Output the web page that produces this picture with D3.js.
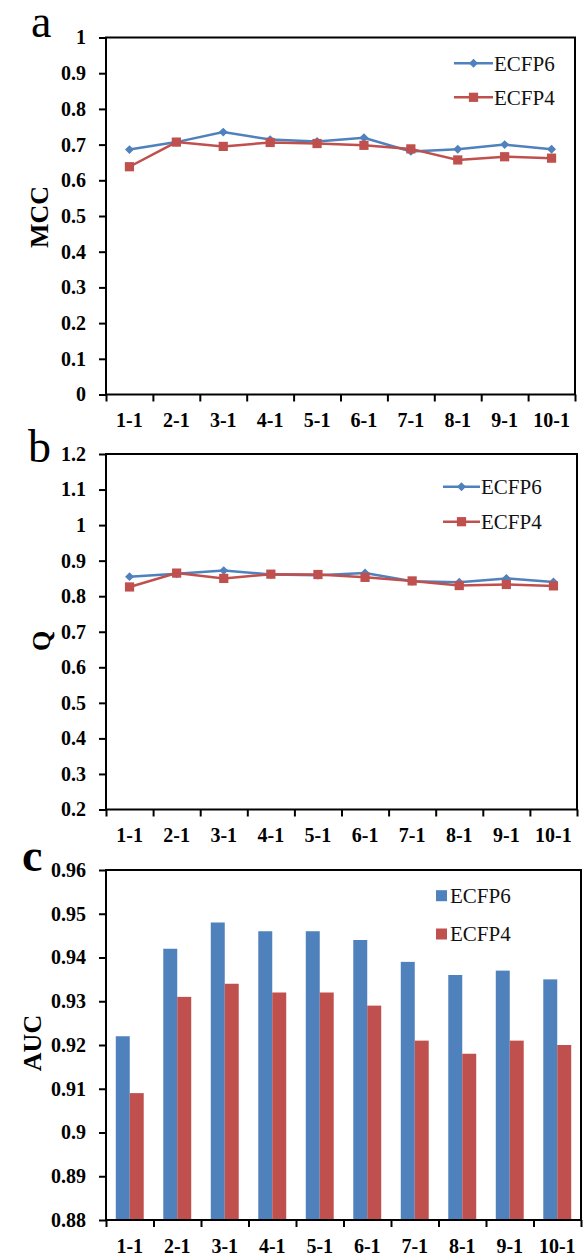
<!DOCTYPE html>
<html>
<head>
<meta charset="utf-8">
<script src="https://cdn.jsdelivr.net/npm/d3@7"></script>
<style>
  body { margin: 0; background: #fff; }
  svg, svg text { font-family: "Liberation Serif", "DejaVu Serif", serif !important; }
</style>
</head>
<body>
<svg id="chart" width="583" height="1256"></svg>
<script>
// data
const categories = ["1-1", "2-1", "3-1", "4-1", "5-1", "6-1", "7-1", "8-1", "9-1", "10-1"];
const seriesNames = ["ECFP6", "ECFP4"];

const mccECFP6 = [0.686, 0.707, 0.735, 0.714, 0.709, 0.719, 0.681, 0.687, 0.700, 0.687];
const mccECFP4 = [0.638, 0.707, 0.695, 0.706, 0.703, 0.698, 0.688, 0.657, 0.666, 0.662];

const qECFP6 = [0.855, 0.863, 0.872, 0.861, 0.859, 0.865, 0.842, 0.839, 0.850, 0.840];
const qECFP4 = [0.826, 0.865, 0.850, 0.862, 0.861, 0.853, 0.843, 0.830, 0.833, 0.829];

const aucECFP6 = [0.922, 0.942, 0.948, 0.946, 0.946, 0.944, 0.939, 0.936, 0.937, 0.935];
const aucECFP4 = [0.909, 0.931, 0.934, 0.932, 0.932, 0.929, 0.921, 0.918, 0.921, 0.920];

const mccTicks = [0, 0.1, 0.2, 0.3, 0.4, 0.5, 0.6, 0.7, 0.8, 0.9, 1];
const qTicks = [0.2, 0.3, 0.4, 0.5, 0.6, 0.7, 0.8, 0.9, 1, 1.1, 1.2];
const aucTicks = [0.88, 0.89, 0.9, 0.91, 0.92, 0.93, 0.94, 0.95, 0.96];

const colors = ["#4F81BD", "#C0504D"];
const serif = "'Liberation Serif', 'DejaVu Serif', serif";

const svg = d3.select("#chart");

// shared frame + axes for one panel, returns scales
function frame(p) {
  const g = svg.append("g");
  const x = d3.scaleBand(categories, [p.left, p.right]);
  const y = d3.scaleLinear([p.ticks[0], p.ticks[p.ticks.length - 1]], [p.bottom, p.top]);

  g.append("rect")
    .attr("x", p.left).attr("y", p.top)
    .attr("width", p.right - p.left).attr("height", p.bottom - p.top)
    .attr("fill", "none").attr("stroke", "#000").attr("stroke-width", 2);

  const yAxis = g.append("g")
    .attr("transform", `translate(${p.left},0)`)
    .call(d3.axisLeft(y).tickValues(p.ticks).tickFormat(d => String(d)).tickSize(7).tickPadding(13));

  // tick marks sit between categories
  const xb = d3.scaleLinear([0, categories.length], [p.left, p.right]);
  const xTicks = g.append("g")
    .attr("transform", `translate(0,${p.bottom})`)
    .call(d3.axisBottom(xb).tickValues(d3.range(categories.length + 1)).tickFormat("").tickSize(7));

  const xAxis = g.append("g")
    .attr("transform", `translate(0,${p.bottom})`)
    .call(d3.axisBottom(x).tickSize(0).tickPadding(18.5));

  [yAxis, xTicks, xAxis].forEach(a => {
    a.attr("font-family", null);
    a.select(".domain").remove();
    a.selectAll("line").attr("stroke", "#000").attr("stroke-width", 2);
    a.selectAll("text")
      .style("font-family", serif)
      .attr("font-size", 20).attr("font-weight", "bold").attr("fill", "#000");
  });

  // y title
  g.append("text")
    .attr("transform", `translate(${p.titleX},${p.titleY}) rotate(-90)`)
    .attr("text-anchor", "middle").attr("dy", "0.35em")
    .style("font-family", serif)
    .attr("font-size", 26).attr("font-weight", "bold")
    .text(p.title);

  // panel letter
  g.append("text")
    .attr("x", p.letterX).attr("y", p.letterY)
    .style("font-family", serif)
    .attr("font-size", 46).attr("font-weight", p.letterBold ? "bold" : "normal")
    .text(p.letter);

  return { g, x, y };
}

function linePanel(p, series) {
  const { g, x, y } = frame(p);
  const cx = (d, i) => x(categories[i]) + x.bandwidth() / 2;
  const line = d3.line().x(cx).y(d => y(d));

  series.forEach((vals, k) => {
    g.append("path")
      .datum(vals)
      .attr("fill", "none")
      .attr("stroke", colors[k])
      .attr("stroke-width", 2.5)
      .attr("d", line);

    const sym = k === 0 ? d3.symbol(d3.symbolSquare, 40) : d3.symbol(d3.symbolSquare, 85);
    g.selectAll(null)
      .data(vals)
      .join("path")
      .attr("d", sym)
      .attr("fill", colors[k])
      .attr("transform", (d, i) => `translate(${cx(d, i)},${y(d)})` + (k === 0 ? " rotate(45)" : ""));
  });

  // legend
  seriesNames.forEach((name, k) => {
    const ly = p.legendY[k];
    g.append("line")
      .attr("x1", p.legendX[0]).attr("x2", p.legendX[1])
      .attr("y1", ly).attr("y2", ly)
      .attr("stroke", colors[k]).attr("stroke-width", 2.5);
    const mx = (p.legendX[0] + p.legendX[1]) / 2;
    g.append("path")
      .attr("d", k === 0 ? d3.symbol(d3.symbolSquare, 40) : d3.symbol(d3.symbolSquare, 85))
      .attr("fill", colors[k])
      .attr("transform", `translate(${mx},${ly})` + (k === 0 ? " rotate(45)" : ""));
    g.append("text")
      .attr("x", p.legendX[1] + 1).attr("y", ly).attr("dy", "0.35em")
      .style("font-family", serif)
      .attr("font-size", 21).attr("fill", "#111")
      .text(name);
  });
}

function barPanel(p, series) {
  const { g, x, y } = frame(p);
  const x1 = d3.scaleBand(seriesNames, [0, x.bandwidth()]).paddingInner(0).paddingOuter(0.7);

  series.forEach((vals, k) => {
    g.selectAll(null)
      .data(vals)
      .join("rect")
      .attr("x", (d, i) => x(categories[i]) + x1(seriesNames[k]))
      .attr("y", d => y(d))
      .attr("width", x1.bandwidth())
      .attr("height", d => y(p.ticks[0]) - y(d))
      .attr("fill", colors[k]);
  });
  // redraw bottom edge over bars
  g.append("line")
    .attr("x1", p.left).attr("x2", p.right)
    .attr("y1", p.bottom).attr("y2", p.bottom)
    .attr("stroke", "#000").attr("stroke-width", 2);

  seriesNames.forEach((name, k) => {
    const ly = p.legendY[k];
    g.append("rect")
      .attr("x", p.legendX).attr("y", ly - 5.5)
      .attr("width", 11).attr("height", 11)
      .attr("fill", colors[k]);
    g.append("text")
      .attr("x", p.legendX + 14).attr("y", ly).attr("dy", "0.35em")
      .style("font-family", serif)
      .attr("font-size", 21).attr("fill", "#111")
      .text(name);
  });
}

linePanel({
  left: 106, right: 575, top: 37.5, bottom: 394.5, ticks: mccTicks,
  title: "MCC", titleX: 39, titleY: 217,
  letter: "a", letterX: 31, letterY: 37, letterBold: false,
  legendX: [454, 493], legendY: [63.3, 97.3]
}, [mccECFP6, mccECFP4]);

linePanel({
  left: 106, right: 577, top: 454, bottom: 809.5, ticks: qTicks,
  title: "Q", titleX: 41, titleY: 641,
  letter: "b", letterX: 28, letterY: 462, letterBold: false,
  legendX: [443, 480], legendY: [486.7, 521.7]
}, [qECFP6, qECFP4]);

barPanel({
  left: 106, right: 581, top: 870, bottom: 1220, ticks: aucTicks,
  title: "AUC", titleX: 32, titleY: 1043,
  letter: "c", letterX: 22, letterY: 871, letterBold: true,
  legendX: 436, legendY: [895.7, 934]
}, [aucECFP6, aucECFP4]);
</script>
</body>
</html>
